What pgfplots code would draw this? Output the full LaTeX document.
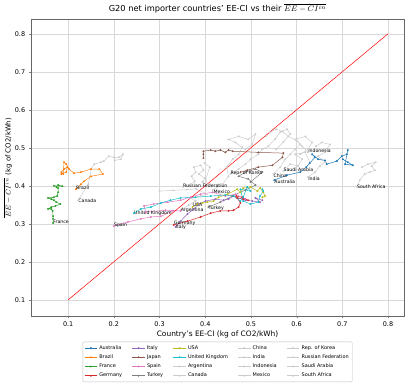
\documentclass[border=0pt]{standalone}
\usepackage{fontspec}
\setmainfont{DejaVu Sans}
\usepackage{pgfplots}
\pgfplotsset{compat=1.18}
\definecolor{tabblue}{HTML}{1F77B4}
\definecolor{taborange}{HTML}{FF7F0E}
\definecolor{tabgreen}{HTML}{2CA02C}
\definecolor{tabred}{HTML}{D62728}
\definecolor{tabpurple}{HTML}{9467BD}
\definecolor{tabbrown}{HTML}{8C564B}
\definecolor{tabpink}{HTML}{E377C2}
\definecolor{tabgray}{HTML}{7F7F7F}
\definecolor{tabolive}{HTML}{BCBD22}
\definecolor{tabcyan}{HTML}{17BECF}
\definecolor{lgray}{HTML}{CCCCCC}
\pgfplotsset{traj/.style={color=#1, mark=*, mark size=0.7pt, line width=0.5pt, mark options={solid}, forget plot}}
\newcommand{\lab}[3]{\node[anchor=west, inner sep=0pt, font=\fontsize{4.7}{5}\selectfont] at (axis cs:#1,#2) {#3};}
\newcommand{\leg}[2]{\addlegendimage{color=#1, mark=*, mark size=0.7pt, line width=0.5pt}\addlegendentry{#2}}

\begin{document}
\begin{tikzpicture}
\begin{axis}[
  name=ax,
  scale only axis,
  width=374bp, height=297bp,
  xmin=0.019, xmax=0.835, ymin=0.058, ymax=0.837,
  xtick={0.1,0.2,0.3,0.4,0.5,0.6,0.7,0.8},
  ytick={0.1,0.2,0.3,0.4,0.5,0.6,0.7,0.8},
  xticklabels={0.1,0.2,0.3,0.4,0.5,0.6,0.7,0.8},
  yticklabels={0.1,0.2,0.3,0.4,0.5,0.6,0.7,0.8},
  tick align=outside, tick pos=left,
  major tick length=2.5bp,
  tick label style={font=\fontsize{6.5}{7}\selectfont},
  grid=major,
  grid style={black!15, line width=0.4pt},
  axis line style={black!60},
  title={G20 net importer countries' EE-CI vs their $\overline{EE-CI^{in}}$},
  title style={font=\fontsize{8.3}{9}\selectfont, yshift=-3bp},
  xlabel={Country's EE-CI (kg of CO2/kWh)},
  ylabel={$\overline{EE-CI^{in}}$ (kg of CO2/kWh)},
  xlabel style={font=\fontsize{7.5}{8}\selectfont, yshift=3bp},
  ylabel style={font=\fontsize{7}{8}\selectfont, yshift=-4bp},
  legend columns=5,
  legend style={at={(0.5,-0.0875)}, anchor=north, font=\fontsize{5}{6}\selectfont,
    draw=black!25, rounded corners=1pt, inner sep=1.5pt,
    /tikz/every even column/.append style={column sep=8pt}},
  legend image code/.code={\draw[mark repeat=2,mark phase=2] plot coordinates {(0cm,0cm) (0.22cm,0cm) (0.44cm,0cm)};},
  legend cell align=left,
]
% grey countries
\addplot[traj=lgray] coordinates {(0.346,0.336)(0.364,0.349)(0.379,0.360)(0.368,0.368)(0.390,0.373)(0.403,0.378)(0.380,0.392)(0.360,0.390)(0.330,0.388)(0.300,0.386)};
\addplot[traj=lgray] coordinates {(0.122,0.362)(0.144,0.404)(0.148,0.425)(0.150,0.444)(0.157,0.457)(0.172,0.462)(0.178,0.465)(0.189,0.478)(0.200,0.475)(0.211,0.475)(0.220,0.483)(0.215,0.470)(0.202,0.467)};
\addplot[traj=lgray] coordinates {(0.549,0.431)(0.564,0.449)(0.575,0.470)(0.586,0.483)(0.597,0.496)(0.608,0.509)(0.599,0.523)(0.619,0.530)(0.634,0.514)(0.625,0.496)(0.608,0.483)};
\addplot[traj=lgray] coordinates {(0.625,0.423)(0.640,0.436)(0.651,0.452)(0.662,0.462)(0.647,0.478)(0.662,0.488)(0.673,0.509)(0.655,0.514)(0.642,0.504)};
\addplot[traj=lgray] coordinates {(0.625,0.488)(0.612,0.504)(0.599,0.520)(0.582,0.530)(0.569,0.543)(0.555,0.549)(0.542,0.541)(0.533,0.530)};
\addplot[traj=lgray] coordinates {(0.416,0.389)(0.438,0.404)(0.451,0.425)(0.447,0.449)(0.460,0.470)(0.473,0.483)(0.481,0.501)(0.466,0.514)(0.451,0.522)(0.473,0.530)(0.494,0.522)(0.510,0.536)(0.503,0.509)(0.488,0.496)};
\addplot[traj=lgray] coordinates {(0.455,0.431)(0.473,0.444)(0.488,0.457)(0.499,0.470)(0.516,0.483)(0.525,0.496)(0.538,0.504)(0.553,0.523)(0.564,0.541)(0.579,0.549)(0.586,0.536)(0.571,0.515)(0.555,0.496)};
\addplot[traj=lgray] coordinates {(0.351,0.397)(0.368,0.404)(0.377,0.412)(0.370,0.425)(0.379,0.436)(0.375,0.449)(0.390,0.454)(0.396,0.441)(0.386,0.431)(0.399,0.420)(0.394,0.410)(0.405,0.402)(0.401,0.418)(0.410,0.449)(0.398,0.460)};
\addplot[traj=lgray] coordinates {(0.571,0.439)(0.586,0.457)(0.603,0.452)(0.612,0.470)(0.597,0.483)(0.619,0.488)(0.629,0.462)(0.619,0.444)};
\addplot[traj=lgray] coordinates {(0.732,0.397)(0.738,0.415)(0.749,0.431)(0.760,0.436)(0.771,0.441)(0.764,0.452)(0.773,0.462)(0.756,0.457)(0.743,0.449)};
% highlighted countries
\addplot[traj=tabblue] coordinates {(0.551,0.415)(0.579,0.428)(0.608,0.436)(0.621,0.449)(0.629,0.460)(0.640,0.475)(0.634,0.483)(0.647,0.470)(0.662,0.467)(0.666,0.457)(0.688,0.465)(0.699,0.478)(0.710,0.483)(0.712,0.494)(0.706,0.457)(0.723,0.454)(0.712,0.462)(0.701,0.470)};
\addplot[traj=taborange] coordinates {(0.117,0.391)(0.128,0.404)(0.135,0.412)(0.150,0.425)(0.176,0.431)(0.168,0.444)(0.150,0.444)(0.128,0.436)(0.113,0.433)(0.102,0.444)(0.096,0.457)(0.091,0.462)(0.089,0.431)(0.085,0.436)(0.091,0.444)(0.098,0.449)(0.096,0.436)(0.085,0.431)};
\addplot[traj=tabgreen] coordinates {(0.067,0.302)(0.067,0.313)(0.067,0.320)(0.066,0.334)(0.063,0.339)(0.056,0.339)(0.063,0.344)(0.072,0.347)(0.083,0.352)(0.074,0.357)(0.069,0.362)(0.063,0.365)(0.056,0.368)(0.069,0.370)(0.076,0.373)(0.078,0.383)(0.078,0.394)(0.074,0.397)(0.078,0.402)(0.087,0.399)(0.069,0.400)};
\addplot[traj=tabred] coordinates {(0.331,0.297)(0.361,0.307)(0.390,0.318)(0.412,0.328)(0.433,0.334)(0.451,0.334)(0.462,0.336)(0.473,0.344)(0.477,0.355)(0.470,0.368)(0.483,0.365)(0.494,0.362)(0.481,0.370)(0.468,0.373)};
\addplot[traj=tabpurple] coordinates {(0.335,0.292)(0.346,0.307)(0.361,0.326)(0.375,0.339)(0.385,0.352)(0.401,0.360)(0.422,0.365)(0.440,0.362)(0.451,0.365)(0.462,0.373)(0.488,0.362)(0.503,0.360)(0.520,0.357)(0.510,0.368)(0.525,0.362)};
\addplot[traj=tabbrown] coordinates {(0.396,0.473)(0.396,0.483)(0.396,0.491)(0.412,0.494)(0.422,0.491)(0.433,0.494)(0.444,0.488)(0.451,0.494)(0.460,0.491)(0.516,0.488)(0.571,0.486)(0.569,0.475)(0.547,0.454)(0.516,0.449)(0.492,0.441)(0.477,0.436)};
\addplot[traj=tabpink] coordinates {(0.200,0.294)(0.231,0.305)(0.259,0.313)(0.281,0.318)(0.303,0.320)(0.329,0.334)(0.346,0.334)(0.313,0.336)(0.270,0.331)(0.266,0.347)(0.287,0.352)(0.318,0.357)(0.346,0.362)(0.368,0.370)(0.390,0.378)(0.416,0.383)(0.444,0.373)(0.466,0.378)(0.488,0.365)};
\addplot[traj=tabgray] coordinates {(0.407,0.344)(0.433,0.357)(0.459,0.373)(0.488,0.389)(0.510,0.402)(0.494,0.418)(0.473,0.425)(0.488,0.436)(0.510,0.444)(0.525,0.436)(0.499,0.410)};
\addplot[traj=tabolive] coordinates {(0.372,0.344)(0.383,0.352)(0.394,0.355)(0.405,0.357)(0.418,0.360)(0.429,0.370)(0.449,0.378)(0.470,0.391)(0.477,0.383)(0.483,0.394)(0.499,0.397)(0.514,0.386)(0.520,0.394)(0.527,0.383)(0.531,0.373)(0.525,0.370)};
\addplot[traj=tabcyan] coordinates {(0.244,0.328)(0.259,0.339)(0.281,0.344)(0.303,0.355)(0.324,0.362)(0.346,0.368)(0.379,0.370)(0.412,0.373)(0.444,0.376)(0.462,0.373)(0.477,0.360)(0.483,0.370)(0.492,0.397)(0.499,0.386)(0.477,0.391)(0.483,0.360)(0.499,0.352)(0.516,0.357)(0.520,0.373)(0.527,0.386)(0.525,0.391)};
% identity line
\addplot[color=red, line width=0.5pt, forget plot] coordinates {(0.1,0.1)(0.8,0.8)};
% labels at first year
\lab{0.551}{0.410}{Australia}
\lab{0.117}{0.394}{Brazil}
\lab{0.067}{0.305}{France}
\lab{0.331}{0.302}{Germany}
\lab{0.335}{0.290}{Italy}
\lab{0.200}{0.296}{Spain}
\lab{0.407}{0.341}{Turkey}
\lab{0.372}{0.349}{USA}
\lab{0.244}{0.329}{United Kingdom}
\lab{0.346}{0.336}{Argentina}
\lab{0.122}{0.361}{Canada}
\lab{0.549}{0.426}{China}
\lab{0.625}{0.419}{India}
\lab{0.625}{0.491}{Indonesia}
\lab{0.418}{0.384}{Mexico}
\lab{0.455}{0.434}{Rep. of Korea}
\lab{0.351}{0.401}{Russian Federation}
\lab{0.571}{0.441}{Saudi Arabia}
\lab{0.732}{0.398}{South Africa}
% legend in matplotlib column order
\leg{tabblue}{Australia}
\leg{tabpurple}{Italy}
\leg{tabolive}{USA}
\leg{lgray}{China}
\leg{lgray}{Rep. of Korea}
\leg{taborange}{Brazil}
\leg{tabbrown}{Japan}
\leg{tabcyan}{United Kingdom}
\leg{lgray}{India}
\leg{lgray}{Russian Federation}
\leg{tabgreen}{France}
\leg{tabpink}{Spain}
\leg{lgray}{Argentina}
\leg{lgray}{Indonesia}
\leg{lgray}{Saudi Arabia}
\leg{tabred}{Germany}
\leg{tabgray}{Turkey}
\leg{lgray}{Canada}
\leg{lgray}{Mexico}
\leg{lgray}{South Africa}
\end{axis}
\path ([xshift=-30bp,yshift=-63bp]ax.south west) rectangle ([xshift=3bp,yshift=15bp]ax.north east);
\end{tikzpicture}
\end{document}
